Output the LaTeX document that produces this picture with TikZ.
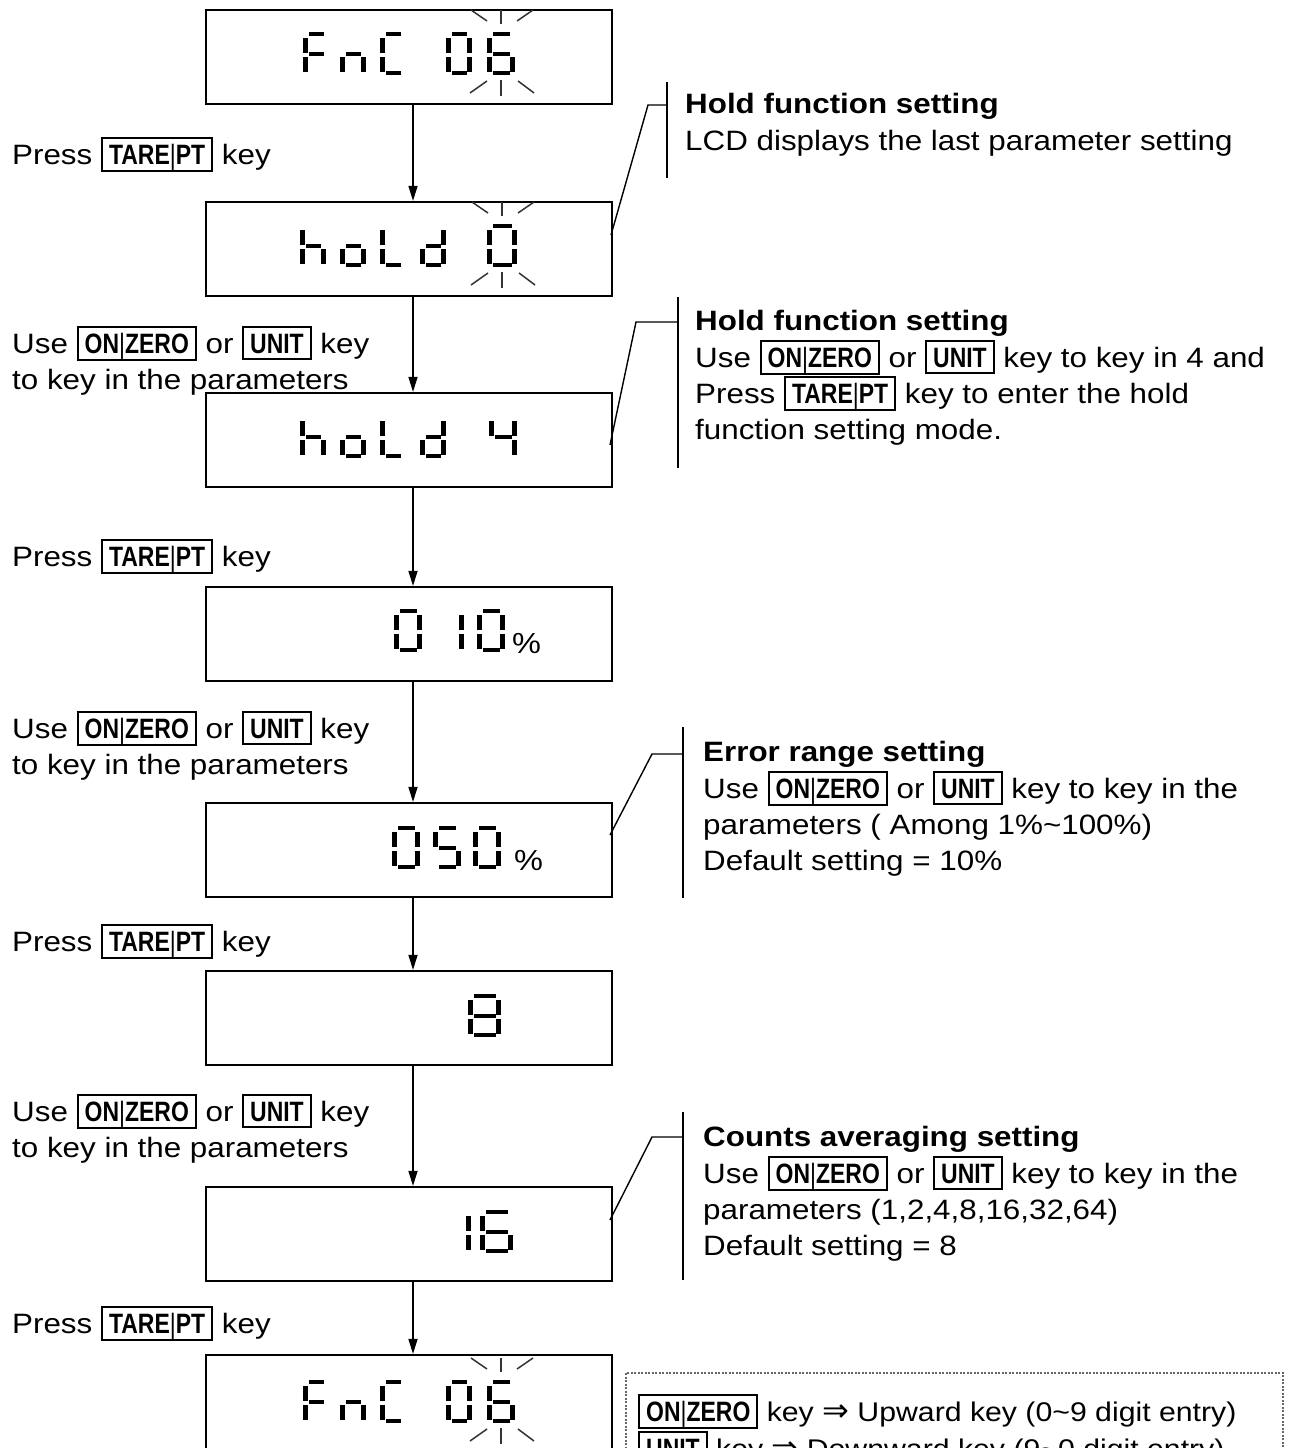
\documentclass[tikz,border=0pt]{standalone}
\usepackage{fontspec}
\setmainfont{Liberation Sans}[FakeStretch=1.12]
\newfontfamily\keyfont{Liberation Sans}[FakeStretch=0.82]
\newfontfamily\symfont{DejaVu Sans}
\usetikzlibrary{arrows.meta}
\newcommand\kbar{{\mdseries|}}
\newcommand\kbox[1]{{\setlength\fboxsep{0pt}\setlength\fboxrule{2pt}\fbox{\hspace{6pt}\rule[-5pt]{0pt}{30pt}{\keyfont\bfseries\fontsize{28}{30}\selectfont #1}\hspace{6pt}}}}
% seven segment pieces: #1 x0, #2 y0, #3 width
\newcommand\lcdsega[3]{\fill (#1+5.5,#2) rectangle (#1+#3-5.5,#2+4.2);}
\newcommand\lcdsegb[3]{\fill (#1+#3-4.8,#2+6) rectangle (#1+#3,#2+20.5);}
\newcommand\lcdsegc[3]{\fill (#1+#3-4.8,#2+25) rectangle (#1+#3,#2+39.5);}
\newcommand\lcdsegd[3]{\fill (#1+5.5,#2+38.8) rectangle (#1+#3-5.5,#2+43);}
\newcommand\lcdsege[3]{\fill (#1,#2+25) rectangle (#1+4.8,#2+39.5);}
\newcommand\lcdsegf[3]{\fill (#1,#2+6) rectangle (#1+4.8,#2+20.5);}
\newcommand\lcdsegg[3]{\fill (#1+5.5,#2+20) rectangle (#1+#3-5.5,#2+23.8);}
\newcommand\lcdchar[4]{\foreach \sg in {#4}{\csname lcdseg\sg\endcsname{#1}{#2}{#3}}}
\newcommand\lcdrays[3]{%
  \draw[ray] (#1,#2-22) -- (#1,#2-8);
  \draw[ray] (#1-30,#2-22) -- (#1-14,#2-11);
  \draw[ray] (#1+16,#2-11) -- (#1+32,#2-22);
  \draw[ray] (#1,#3+5) -- (#1,#3+21);
  \draw[ray] (#1-31,#3+18) -- (#1-14,#3+6);
  \draw[ray] (#1+17,#3+6) -- (#1+33,#3+18);}
\begin{document}
\begin{tikzpicture}[x=1pt,y=-1pt,
  lcd/.style={draw,line width=2.2pt,minimum width=406pt,minimum height=94pt,inner sep=0pt},
  txt/.style={anchor=base west,inner sep=0pt,font=\fontsize{28}{36}\selectfont},
  pct/.style={anchor=base west,inner sep=0pt,font=\fontsize{29}{30}\selectfont},
  arr/.style={line width=1.5pt,-{Triangle[length=15pt,width=9pt]}},
  lead/.style={line width=1.4pt},
  ray/.style={line width=1.5pt,black!80},
  legendbox/.style={draw=black!60,line width=1.3pt,dash pattern=on 2pt off 1.5pt}]
\fill[white] (0,0) rectangle (1292,1448);
\useasboundingbox (0,0) rectangle (1292,1448);

% display boxes
\node[lcd] (b1) at (409,57) {};
\node[lcd] (b2) at (409,249) {};
\node[lcd] (b3) at (409,440) {};
\node[lcd] (b4) at (409,634) {};
\node[lcd] (b5) at (409,850) {};
\node[lcd] (b6) at (409,1018) {};
\node[lcd] (b7) at (409,1234) {};
\node[lcd] (b8) at (409,1402) {};

% arrows
\foreach \a/\b in {b1/b2,b2/b3,b3/b4,b4/b5,b5/b6,b6/b7,b7/b8}
  \draw[arr] ([xshift=4pt]\a.south) -- ([xshift=4pt]\b.north);

% box 1: FnC 06
\lcdchar{303}{32}{26}{a,f,g,e}
\lcdchar{340}{32}{26}{e,g,c}
\lcdchar{380}{32}{26}{a,f,e,d}
\lcdchar{446}{32}{26}{a,b,c,d,e,f}
\lcdchar{487}{32}{28}{a,f,g,e,d,c}
\lcdrays{501}{32}{75}
% box 2: hold 0
\lcdchar{300}{224}{26}{f,e,g,c}
\lcdchar{340}{224}{26}{g,e,c,d}
\lcdchar{380}{224}{26}{f,e,d}
\lcdchar{420}{224}{26}{b,c,g,e,d}
\lcdchar{487}{224}{30}{a,b,c,d,e,f}
\lcdrays{502}{224}{267}
% box 3: hold 4
\lcdchar{300}{415}{26}{f,e,g,c}
\lcdchar{340}{415}{26}{g,e,c,d}
\lcdchar{380}{415}{26}{f,e,d}
\lcdchar{420}{415}{26}{b,c,g,e,d}
\lcdchar{489}{415}{28}{f,b,g,c}
% box 4: 010 %
\lcdchar{394}{609}{28}{a,b,c,d,e,f}
\lcdchar{436}{609}{28}{b,c}
\lcdchar{477}{609}{28}{a,b,c,d,e,f}
\node[pct] (p4) at (512,653) {\%};
% box 5: 050 %
\lcdchar{392}{826}{28}{a,b,c,d,e,f}
\lcdchar{433}{826}{28}{a,f,g,c,d}
\lcdchar{473}{826}{28}{a,b,c,d,e,f}
\node[pct] (p5) at (514,870) {\%};
% box 6: 8
\lcdchar{468}{994}{33}{a,b,c,d,e,f,g}
% box 7: 16
\lcdchar{438}{1210}{33}{b,c}
\lcdchar{480}{1210}{33}{a,f,g,e,d,c}
% box 8: FnC 06
\lcdchar{303}{1380}{26}{a,f,g,e}
\lcdchar{340}{1380}{26}{e,g,c}
\lcdchar{380}{1380}{26}{a,f,e,d}
\lcdchar{446}{1380}{26}{a,b,c,d,e,f}
\lcdchar{487}{1380}{28}{a,f,g,e,d,c}
\lcdrays{501}{1380}{1423}

% left labels
\node[txt] (l1) at (12,164) {Press \kbox{TARE\kbar PT} key};
\node[txt] (l2a) at (12,353) {Use \kbox{ON\kbar ZERO} or \kbox{UNIT} key};
\node[txt] (l2b) at (12,389) {to key in the parameters};
\node[txt] (l3) at (12,566) {Press \kbox{TARE\kbar PT} key};
\node[txt] (l4a) at (12,738) {Use \kbox{ON\kbar ZERO} or \kbox{UNIT} key};
\node[txt] (l4b) at (12,774) {to key in the parameters};
\node[txt] (l5) at (12,951) {Press \kbox{TARE\kbar PT} key};
\node[txt] (l6a) at (12,1121) {Use \kbox{ON\kbar ZERO} or \kbox{UNIT} key};
\node[txt] (l6b) at (12,1157) {to key in the parameters};
\node[txt] (l7) at (12,1333) {Press \kbox{TARE\kbar PT} key};

% annotation 1
\node[txt] (a1t) at (685,113) {\textbf{Hold function setting}};
\node[txt] (a1b) at (685,150) {LCD displays the last parameter setting};
\coordinate (v1a) at (667,82); \coordinate (v1b) at (667,178);
\coordinate (h1a) at (648,105); \coordinate (h1b) at (667,105);
\coordinate (e1) at (611,235);
\draw[lead] (v1a) -- (v1b);
\draw[lead] (e1) -- (h1a) -- (h1b);

% annotation 2
\node[txt] (a2t) at (695,330) {\textbf{Hold function setting}};
\node[txt] (a2b) at (695,367) {Use \kbox{ON\kbar ZERO} or \kbox{UNIT} key to key in 4 and};
\node[txt] (a2c) at (695,403) {Press \kbox{TARE\kbar PT} key to enter the hold};
\node[txt] (a2d) at (695,439) {function setting mode.};
\coordinate (v2a) at (678,297); \coordinate (v2b) at (678,468);
\coordinate (h2a) at (636,322); \coordinate (h2b) at (678,322);
\coordinate (e2) at (610,445);
\draw[lead] (v2a) -- (v2b);
\draw[lead] (e2) -- (h2a) -- (h2b);

% annotation 3
\node[txt] (a3t) at (703,761) {\textbf{Error range setting}};
\node[txt] (a3b) at (703,798) {Use \kbox{ON\kbar ZERO} or \kbox{UNIT} key to key in the};
\node[txt] (a3c) at (703,834) {parameters ( Among 1\%\textasciitilde 100\%)};
\node[txt] (a3d) at (703,870) {Default setting = 10\%};
\coordinate (v3a) at (683,727); \coordinate (v3b) at (683,898);
\coordinate (h3a) at (652,754); \coordinate (h3b) at (683,754);
\coordinate (e3) at (610,835);
\draw[lead] (v3a) -- (v3b);
\draw[lead] (e3) -- (h3a) -- (h3b);

% annotation 4
\node[txt] (a4t) at (703,1146) {\textbf{Counts averaging setting}};
\node[txt] (a4b) at (703,1183) {Use \kbox{ON\kbar ZERO} or \kbox{UNIT} key to key in the};
\node[txt] (a4c) at (703,1219) {parameters (1,2,4,8,16,32,64)};
\node[txt] (a4d) at (703,1255) {Default setting = 8};
\coordinate (v4a) at (683,1112); \coordinate (v4b) at (683,1280);
\coordinate (h4a) at (652,1137); \coordinate (h4b) at (683,1137);
\coordinate (e4) at (610,1220);
\draw[lead] (v4a) -- (v4b);
\draw[lead] (e4) -- (h4a) -- (h4b);

% legend
\draw[legendbox] (626,1373) rectangle (1283,1470);
\node[txt,font=\fontsize{27}{36}\selectfont] (g1) at (638,1421) {\kbox{ON\kbar ZERO} key {\symfont\fontsize{32}{32}\selectfont ⇒} Upward key (0\textasciitilde 9 digit entry)};
\node[txt,font=\fontsize{27}{36}\selectfont] (g2) at (638,1458) {\kbox{UNIT} key {\symfont\fontsize{32}{32}\selectfont ⇒} Downward key (9\textasciitilde 0 digit entry)};
\end{tikzpicture}
\end{document}
